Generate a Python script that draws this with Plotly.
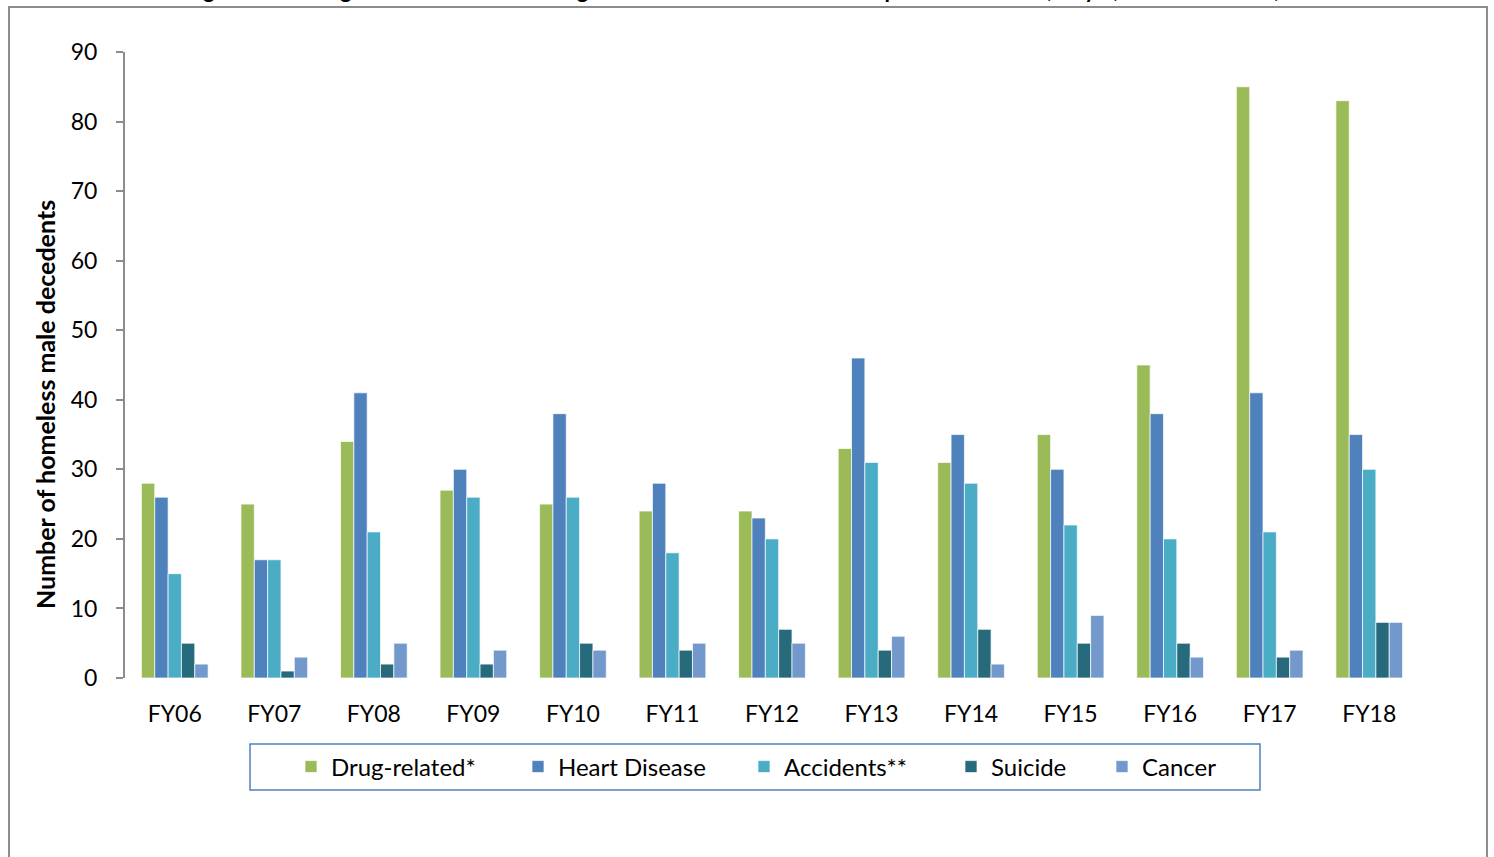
import plotly.graph_objects as go

# fiscal years on the x axis
YEARS = ["FY06", "FY07", "FY08", "FY09", "FY10", "FY11", "FY12",
         "FY13", "FY14", "FY15", "FY16", "FY17", "FY18"]

# deaths per cause
DRUG = [28, 25, 34, 27, 25, 24, 24, 33, 31, 35, 45, 85, 83]
HEART = [26, 17, 41, 30, 38, 28, 23, 46, 35, 30, 38, 41, 35]
ACCIDENTS = [15, 17, 21, 26, 26, 18, 20, 31, 28, 22, 20, 21, 30]
SUICIDE = [5, 1, 2, 2, 5, 4, 7, 4, 7, 5, 5, 3, 8]
CANCER = [2, 3, 5, 4, 4, 5, 5, 6, 2, 9, 3, 4, 8]

CAUSES = ["Drug-related*", "Heart Disease", "Accidents**", "Suicide", "Cancer"]
VALUES = [DRUG, HEART, ACCIDENTS, SUICIDE, CANCER]
COLORS = ["#9BBB59", "#4F81BD", "#4BACC6", "#266A7B", "#7399CC"]

FONT = "Lato, 'Open Sans', sans-serif"

# page is 1494x857, plot area spans x 125..1419 px, y 52..678 px
W, H = 1494, 857
L, R, T, B = 125, 75, 52, 179
pw, ph = W - L - R, H - T - B


def px(x):
    return (x - L) / pw


def py(y):
    return (H - B - y) / ph


# legend swatch centres along the legend box (Excel spaces them by text width)
LEGEND_X = [312, 539, 765, 972, 1123]

fig = go.Figure()
legends = {}
for i, (name, vals, color) in enumerate(zip(CAUSES, VALUES, COLORS)):
    key = "legend" if i == 0 else f"legend{i + 1}"
    fig.add_trace(go.Bar(
        x=YEARS, y=vals, name=name, legend=key,
        marker=dict(color=color, line=dict(color="rgba(255,255,255,0.7)", width=1)),
    ))
    legends[key] = dict(
        orientation="h",
        x=px(LEGEND_X[i] - 21), xanchor="left",
        y=py(767), yanchor="middle",
        bgcolor="rgba(0,0,0,0)", borderwidth=0,
        font=dict(size=24, family=FONT, color="black"),
    )

fig.update_layout(
    width=W, height=H,
    margin=dict(l=L, r=R, t=T, b=B),
    paper_bgcolor="white", plot_bgcolor="white",
    barmode="group", bargap=0.33, bargroupgap=0,
    font=dict(family=FONT, size=22, color="black"),
    showlegend=True,
    **legends,
)

fig.update_xaxes(
    showline=False, showgrid=False, ticks="",
    tickfont=dict(size=23), range=[-0.5, 12.5],
    ticklabelstandoff=20,
)
fig.update_yaxes(
    range=[0, 90], dtick=10, showgrid=False, zeroline=False,
    showline=True, linecolor="#8C8C8C", linewidth=2,
    ticks="outside", ticklen=7, tickcolor="#8C8C8C", tickwidth=2,
    tickfont=dict(size=23), ticklabelstandoff=14,
)

# legend frame
fig.add_shape(
    type="rect", xref="paper", yref="paper",
    x0=px(250), x1=px(1260), y0=py(790), y1=py(744),
    line=dict(color="#4F81BD", width=1.5),
)

# y axis title placed like the original
fig.add_annotation(
    text="<b>Number of homeless male decedents</b>",
    xref="paper", yref="paper", x=px(45), y=py(405),
    xanchor="center", yanchor="middle",
    textangle=-90, showarrow=False, font=dict(size=25),
)

# title, mostly cut off at the top edge as in the original
fig.add_annotation(
    text="<b>Figure 3: Leading Causes of Death among Homeless Male Decedents Reported to OCME, July 1, 2005 – June 30, 2018</b>",
    xref="paper", yref="paper", x=px(760), y=py(5),
    xanchor="center", yanchor="bottom", showarrow=False, font=dict(size=22),
)

# outer chart border
fig.add_shape(
    type="rect", xref="paper", yref="paper",
    x0=px(9), x1=px(1487), y0=py(880), y1=py(7),
    line=dict(color="#8C8C8C", width=2), layer="below",
)

fig.write_html(
    "out.html",
    config={"displayModeBar": False},
    post_script="document.body.style.margin = '0';",
)
